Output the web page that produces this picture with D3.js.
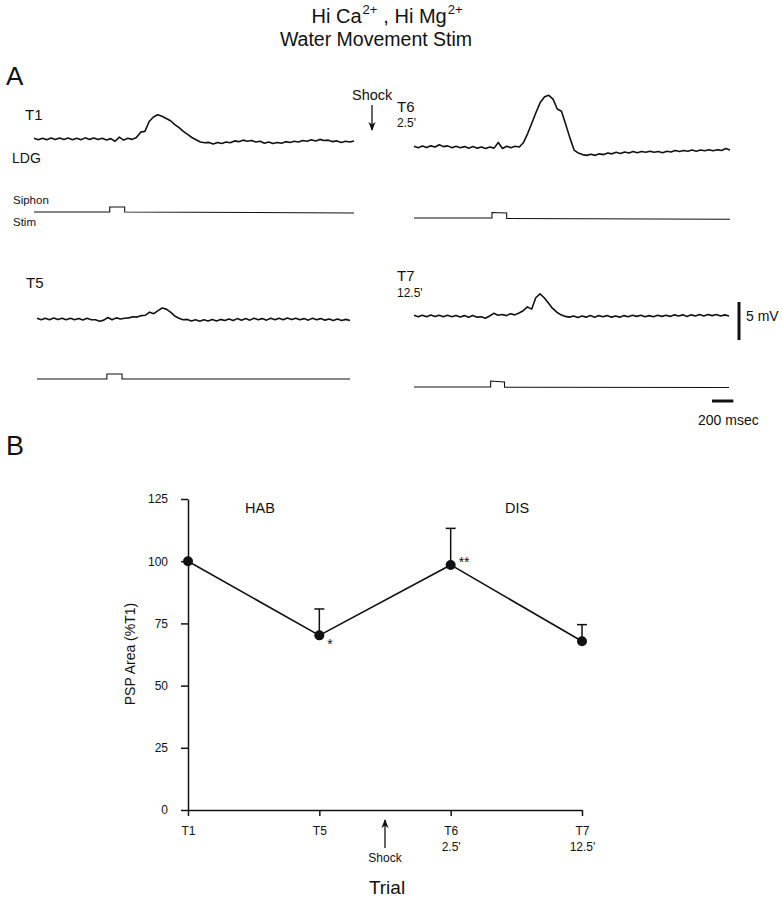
<!DOCTYPE html>
<html lang="en">
<head>
  <meta charset="UTF-8">
  <title>PSP Area</title>
  <script src="https://d3js.org/d3.v7.min.js"></script>
  <style>
    body {
      margin: 0;
      background: #fff;
    }

    svg {
      width: 782px;
      height: 900px;
      display: block;
    }

    text {
      font-family: "Liberation Sans", Arial, sans-serif;
      fill: #111;
    }
  </style>
</head>
<body>

  <svg></svg>

  <script>
    // recorded traces, mV relative to baseline, one sample every 40 ms
    const traceT1 = [
      0.1, -0.1, 0.1, -0.1, 0.12, -0.08, 0.14, -0.06, 0.12, -0.1, 0.1, -0.1, 0.15, -0.05, 0.14, -0.08, 0.1, -0.12,
      0.05, -0.3, 0.25, -0.15, 0.1, -0.05, 0.2,
      0.9, 1.0, 2.3, 2.9, 3.2, 3.0,
      2.7, 2.4, 1.9, 1.5, 1.0, 0.6, 0.2, -0.1, -0.4, -0.5,
      -0.45, -0.65, -0.45, -0.6, -0.4, -0.5, -0.25, -0.35, -0.15, -0.3,
      -0.2, -0.4, -0.3, -0.55, -0.4, -0.6, -0.45, -0.55, -0.35, -0.45,
      -0.3, -0.4, -0.2, -0.3, -0.1, -0.25, -0.05, -0.2, -0.15, -0.35,
      -0.25, -0.45, -0.3, -0.4, -0.25
    ];
    const traceT6 = [
      0.1, -0.1, 0.12, -0.08, 0.15, 0.0, 0.3, 0.05, 0.15, -0.1, 0.1, -0.1, 0.05, -0.15, 0.05, -0.15, 0.0, -0.2, 0.0, -0.15,
      0.6, -0.2, 0.1, -0.1, 0.1, 0.0,
      0.6, 1.8, 3.2, 4.6, 5.9, 6.6,
      6.8, 6.3, 5.0, 4.7, 3.0, 1.2,
      -0.4, -0.8, -1.0, -1.1, -0.95, -1.1, -0.9,
      -1.0, -0.8, -0.9, -0.7, -0.85, -0.65, -0.8, -0.6, -0.75, -0.6,
      -0.7, -0.55, -0.7, -0.6, -0.75, -0.55, -0.65, -0.45, -0.6, -0.45,
      -0.55, -0.4, -0.55, -0.4, -0.5, -0.35, -0.5, -0.35, -0.45, -0.2, -0.4
    ];
    const traceT5 = [
      0.1, -0.1, 0.1, -0.1, 0.12, -0.08, 0.1, -0.1, 0.1, -0.1, 0.08, -0.12, 0.1, -0.1,
      -0.1, -0.3, -0.15, 0.2, -0.1, 0.15, 0.0, 0.1,
      0.15, 0.3, 0.25, 0.45, 0.5, 0.9, 0.7, 1.1, 1.45, 1.3, 0.9, 0.4, 0.1, -0.1,
      -0.05, -0.25, -0.1, -0.3, -0.1, -0.25, -0.05, -0.25, -0.05, -0.2,
      0.0, -0.2, 0.05, -0.15, 0.05, -0.15, 0.1, -0.1, 0.05, -0.15,
      0.1, -0.1, 0.1, -0.1, 0.12, -0.08, 0.1, -0.1, 0.05, -0.15,
      0.1, -0.1, 0.05, -0.15, 0.0, -0.2, 0.0, -0.2, -0.05, -0.2
    ];
    const traceT7 = [
      0.1, -0.1, 0.1, -0.1, 0.12, -0.08, 0.1, -0.1, 0.1, -0.1, 0.08, -0.12, 0.05, -0.15, 0.05, -0.15,
      -0.1, -0.3, 0.0, 0.35, 0.1, 0.2, 0.05, 0.3, 0.15, 0.4,
      0.7, 1.2, 0.9, 2.4, 2.9, 2.4, 1.7, 1.0, 0.5, 0.15,
      -0.05, -0.15, 0.0, -0.2, 0.0, -0.15, 0.05, -0.15, 0.05, -0.1,
      0.05, -0.15, 0.0, -0.15, 0.05, -0.1, 0.1, -0.05, 0.1, -0.1,
      0.05, -0.1, 0.1, -0.05, 0.1, -0.05, 0.15, 0.0, 0.15, -0.05,
      0.15, 0.0, 0.2, 0.0, 0.2, 0.05, 0.2, 0.0, 0.15, 0.0
    ];

    // siphon stimulus monitor: [ms, level]
    const stimT1 = [[0, 0], [710, 0], [710, 1], [850, 1], [850, 0], [3000, -0.2]];
    const stimT6 = [[0, 0], [740, 0], [740, 1.1], [880, 1], [880, -0.1], [3000, -0.25]];
    const stimT5 = [[0, 0], [670, 0], [670, 1], [815, 1], [815, 0], [3000, 0]];
    const stimT7 = [[0, 0], [730, 0], [730, 1.2], [862, 1], [862, -0.05], [3000, -0.1]];

    // panel B
    const trials = [`T1`, `T5`, `T6`, `T7`];
    const trialTimes = [``, ``, `2.5'`, `12.5'`];
    const pspArea = [100, 70.2, 98.5, 67.8];
    const pspSem = [0, 10.6, 14.7, 6.7];
    const signif = [``, `*`, `**`, ``];
    const yTicks = [0, 25, 50, 75, 100, 125];

    const svg = d3.select(`svg`);
    const ink = `#111`;

    svg.append(`defs`).append(`marker`)
      .attr(`id`, `head`)
      .attr(`viewBox`, `0 0 10 10`)
      .attr(`refX`, 9).attr(`refY`, 5)
      .attr(`markerWidth`, 9).attr(`markerHeight`, 9)
      .attr(`markerUnits`, `userSpaceOnUse`)
      .attr(`orient`, `auto`)
      .append(`path`)
      .attr(`d`, `M0,1 L10,5 L0,9 L3,5 Z`)
      .attr(`fill`, ink);

    // title, laid out piece by piece so superscripts sit clear of the words
    const titleParts = [
      {txt: `Hi Ca`, size: 20, dy: 0, gap: 1},
      {txt: `2+`, size: 13, dy: -9, gap: 6},
      {txt: `, Hi Mg`, size: 20, dy: 0, gap: 1},
      {txt: `2+`, size: 13, dy: -9, gap: 0},
    ];
    let cursor = 0;
    const titleG = svg.append(`g`);
    titleParts.forEach(p => {
      const t = titleG.append(`text`)
        .attr(`x`, cursor).attr(`y`, 23 + p.dy)
        .attr(`font-size`, p.size)
        .text(p.txt);
      cursor += t.node().getComputedTextLength() + p.gap;
    });
    titleG.attr(`transform`, `translate(${387 - cursor / 2}, 0)`);

    svg.append(`text`)
      .attr(`x`, 376).attr(`y`, 46)
      .attr(`text-anchor`, `middle`)
      .attr(`font-size`, 19.5)
      .text(`Water Movement Stim`);

    svg.append(`text`).attr(`x`, 6).attr(`y`, 85).attr(`font-size`, 26).text(`A`);
    svg.append(`text`).attr(`x`, 6).attr(`y`, 455).attr(`font-size`, 27).text(`B`);

    // ---------- panel A traces ----------
    const mvPx = 7.6;
    const msMax = 3000;

    const panels = [
      {trace: traceT1, stim: stimT1, x0: 34, x1: 354, base: 139, stimY: 212},
      {trace: traceT6, stim: stimT6, x0: 414, x1: 730, base: 147, stimY: 218},
      {trace: traceT5, stim: stimT5, x0: 37, x1: 350, base: 319, stimY: 379},
      {trace: traceT7, stim: stimT7, x0: 414, x1: 729, base: 316, stimY: 387},
    ];

    panels.forEach(p => {
      const xScale = d3.scaleLinear().domain([0, msMax]).range([p.x0, p.x1]);
      const yScale = d3.scaleLinear().domain([-5, 5]).range([p.base + 5 * mvPx, p.base - 5 * mvPx]);
      const stimScale = d3.scaleLinear().domain([0, 1]).range([p.stimY, p.stimY - 5]);
      const step = msMax / (p.trace.length - 1);

      svg.append(`path`)
        .datum(p.trace)
        .attr(`d`, d3.line().x((d, i) => xScale(i * step)).y(d => yScale(d)))
        .attr(`fill`, `none`)
        .attr(`stroke`, ink)
        .attr(`stroke-width`, 1.6)
        .attr(`stroke-linejoin`, `round`);

      svg.append(`path`)
        .datum(p.stim)
        .attr(`d`, d3.line().x(d => xScale(d[0])).y(d => stimScale(d[1])))
        .attr(`fill`, `none`)
        .attr(`stroke`, ink)
        .attr(`stroke-width`, 1.1);
    });

    const label = (x, y, size, txt) => svg.append(`text`)
      .attr(`x`, x).attr(`y`, y).attr(`font-size`, size).text(txt);

    label(25, 120, 15, `T1`);
    label(12, 163, 14, `LDG`);
    label(13, 204, 11.5, `Siphon`);
    label(13, 226, 11.5, `Stim`);
    label(397, 112, 15, `T6`);
    label(397, 127, 12, `2.5'`);
    label(26, 288, 15, `T5`);
    label(397, 281, 15, `T7`);
    label(397, 297, 12, `12.5'`);
    label(352, 100, 14.5, `Shock`);

    svg.append(`line`)
      .attr(`x1`, 372).attr(`x2`, 372)
      .attr(`y1`, 105).attr(`y2`, 130)
      .attr(`stroke`, ink).attr(`stroke-width`, 1.3)
      .attr(`marker-end`, `url(#head)`);

    // scale bars: 5 mV and 200 msec
    const msPx = (354 - 34) / msMax;
    svg.append(`line`)
      .attr(`x1`, 739).attr(`x2`, 739)
      .attr(`y1`, 302).attr(`y2`, 302 + 5 * mvPx)
      .attr(`stroke`, ink).attr(`stroke-width`, 3);
    label(746, 321, 14, `5 mV`);

    svg.append(`line`)
      .attr(`x1`, 712).attr(`x2`, 712 + 200 * msPx)
      .attr(`y1`, 401).attr(`y2`, 401)
      .attr(`stroke`, ink).attr(`stroke-width`, 3);
    label(698, 425, 14, `200 msec`);

    // ---------- panel B ----------
    const xScale = d3.scalePoint().domain(trials).range([188, 582]);
    const yScale = d3.scaleLinear().domain([0, 125]).range([810, 499]);

    const yAxis = d3.axisLeft(yScale).tickValues(yTicks).tickSize(7).tickSizeOuter(0).tickPadding(13);
    const xAxis = d3.axisBottom(xScale).tickSize(6).tickSizeOuter(0).tickPadding(10);

    const gy = svg.append(`g`)
      .attr(`transform`, `translate(188, 0)`)
      .call(yAxis);

    const gx = svg.append(`g`)
      .attr(`transform`, `translate(0, 810)`)
      .call(xAxis);

    [gx, gy].forEach(g => {
      g.select(`.domain`).attr(`stroke`, ink).attr(`stroke-width`, 1.5);
      g.selectAll(`.tick line`).attr(`stroke`, ink).attr(`stroke-width`, 1.5);
      g.selectAll(`.tick text`)
        .attr(`fill`, ink)
        .attr(`font-size`, 12)
        .attr(`font-family`, `"Liberation Sans", Arial, sans-serif`);
    });

    gx.selectAll(`.tick text`).each(function(d, i) {
      const t = d3.select(this);
      if (trialTimes[i]) {
        t.append(`tspan`)
          .attr(`x`, 0)
          .attr(`dy`, `1.4em`)
          .text(trialTimes[i]);
      }
    });

    svg.append(`text`)
      .attr(`transform`, `translate(135, 654) rotate(-90)`)
      .attr(`text-anchor`, `middle`)
      .attr(`font-size`, 14)
      .text(`PSP Area (%T1)`);

    const points = trials.map((t, i) => ({t, v: pspArea[i], e: pspSem[i], s: signif[i]}));

    svg.append(`path`)
      .datum(points)
      .attr(`d`, d3.line().x(d => xScale(d.t)).y(d => yScale(d.v)))
      .attr(`fill`, `none`)
      .attr(`stroke`, ink)
      .attr(`stroke-width`, 1.6);

    const errs = svg.selectAll(`.err`)
      .data(points.filter(d => d.e > 0))
      .enter()
      .append(`g`)
      .attr(`class`, `err`);

    errs.append(`line`)
      .attr(`x1`, d => xScale(d.t)).attr(`x2`, d => xScale(d.t))
      .attr(`y1`, d => yScale(d.v)).attr(`y2`, d => yScale(d.v + d.e))
      .attr(`stroke`, ink).attr(`stroke-width`, 1.5);

    errs.append(`line`)
      .attr(`x1`, d => xScale(d.t) - 5).attr(`x2`, d => xScale(d.t) + 5)
      .attr(`y1`, d => yScale(d.v + d.e)).attr(`y2`, d => yScale(d.v + d.e))
      .attr(`stroke`, ink).attr(`stroke-width`, 1.5);

    svg.selectAll(`circle`)
      .data(points)
      .enter()
      .append(`circle`)
      .attr(`cx`, d => xScale(d.t))
      .attr(`cy`, d => yScale(d.v))
      .attr(`r`, 5)
      .attr(`fill`, ink);

    svg.selectAll(`.sig`)
      .data(points.filter(d => d.s))
      .enter()
      .append(`text`)
      .attr(`class`, `sig`)
      .attr(`x`, d => xScale(d.t) + 8)
      .attr(`y`, d => yScale(d.v) + (d.s === `*` ? 14 : 2))
      .attr(`font-size`, 14)
      .text(d => d.s);

    label(245, 513, 14.5, `HAB`);
    label(505, 513, 14.5, `DIS`);

    const shockX = (xScale(`T5`) + xScale(`T6`)) / 2;
    svg.append(`line`)
      .attr(`x1`, shockX).attr(`x2`, shockX)
      .attr(`y1`, 848).attr(`y2`, 820)
      .attr(`stroke`, ink).attr(`stroke-width`, 1.3)
      .attr(`marker-end`, `url(#head)`);

    svg.append(`text`)
      .attr(`x`, shockX).attr(`y`, 862)
      .attr(`text-anchor`, `middle`)
      .attr(`font-size`, 12)
      .text(`Shock`);

    svg.append(`text`)
      .attr(`x`, shockX + 2).attr(`y`, 894)
      .attr(`text-anchor`, `middle`)
      .attr(`font-size`, 19)
      .text(`Trial`);
  </script>
</body>
</html>
